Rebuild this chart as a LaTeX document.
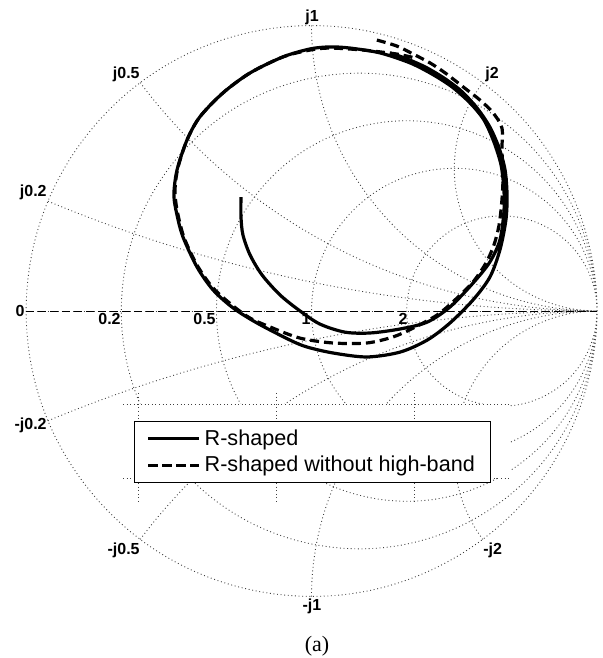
\documentclass[border=0pt]{standalone}
\usepackage{fontspec}
\setmainfont{Liberation Serif}
\newfontfamily\arial{Liberation Sans}
\usepackage{pgfplots}
\pgfplotsset{compat=1.18}
\usepgfplotslibrary{smithchart}
\begin{document}
\begin{tikzpicture}
\useasboundingbox (-155.75pt,-173.5pt) rectangle (145.25pt,155.5pt);
\begin{smithchart}[
  at={(0pt,0pt)}, anchor=center,
  scale only axis, width=285.5pt, height=285.5pt,
  few smithchart ticks,
  xtick={0.2,0.5,1,2},
  ytick={-2,-1,-0.5,-0.2,0.2,0.5,1,2},
  minor xtick={}, minor ytick={},
  xticklabels={}, yticklabels={},
  major tick length=0pt, minor tick length=0pt,
  grid=major,
  major grid style={black!75, line width=0.45pt, dash pattern=on 0.45pt off 1.35pt},
  axis line style={black!75, line width=0.45pt, dash pattern=on 0.45pt off 1.35pt},
  legend style={at={(0.1891,0.3074)}, anchor=north west, draw=black, line width=0.5pt,
    fill=white, font=\arial\fontsize{10.8}{13.5}\selectfont, inner xsep=6pt, inner ysep=2pt,
    cells={anchor=west}},
  legend image code/.code={\path (-0.5pt,0pt) -- (25pt,0pt); \draw[#1] (0pt,0pt) -- (19.5pt,0pt);},
]
% erased band of the grid with its dotted borders
\fill[white] (axis description cs:0.1699,0.2075) rectangle (axis description cs:0.8476,0.3371);
\draw[black!75, line width=0.45pt, dash pattern=on 0.45pt off 1.35pt]
  (axis description cs:0.1699,0.3371) -- (axis description cs:0.8476,0.3371)
  (axis description cs:0.1699,0.2075) -- (axis description cs:0.8476,0.2075)
  (axis description cs:0.1961,0.3564) -- (axis description cs:0.1961,0.1637)
  (axis description cs:0.4378,0.3564) -- (axis description cs:0.4378,0.1637)
  (axis description cs:0.6795,0.3564) -- (axis description cs:0.6795,0.1637);
% real axis
\addplot[is smithchart cs, black, line width=0.5pt, dash pattern=on 4pt off 2pt, forget plot]
  coordinates {(-1,0) (1,0)};
% R-shaped
\addplot[is smithchart cs, black, line width=1.6pt, smooth, tension=0.5, line join=round]
  coordinates {
(-0.247,0.399) (-0.247,0.329) (-0.240,0.266) (-0.215,0.196) (-0.173,0.126)
(-0.110,0.056) (-0.040,0.000) (0.030,-0.046) (0.117,-0.074) (0.205,-0.077)
(0.310,-0.063) (0.405,-0.039) (0.485,0.014) (0.566,0.098) (0.625,0.172)
(0.660,0.249) (0.674,0.347) (0.674,0.424) (0.664,0.511) (0.639,0.592)
(0.604,0.669) (0.555,0.729) (0.492,0.785) (0.422,0.830) (0.345,0.869)
(0.240,0.904) (0.135,0.921) (0.065,0.925) (-0.005,0.918) (-0.100,0.890)
(-0.215,0.834) (-0.310,0.764) (-0.391,0.680) (-0.436,0.599) (-0.471,0.494)
(-0.482,0.406) (-0.471,0.336) (-0.450,0.259) (-0.401,0.154) (-0.345,0.074)
(-0.275,0.011) (-0.191,-0.042) (-0.075,-0.102) (-0.016,-0.126) (0.075,-0.147)
(0.194,-0.161) (0.310,-0.144) (0.405,-0.102) (0.485,-0.042) (0.566,0.039)
(0.625,0.119) (0.660,0.214) (0.681,0.319) (0.685,0.406) (0.678,0.494)
(0.657,0.571) (0.625,0.644) (0.580,0.711) (0.524,0.771) (0.464,0.816)
(0.398,0.855) (0.327,0.886) (0.275,0.904)
  };
\addlegendentry{R-shaped}
% R-shaped without high-band
\addplot[is smithchart cs, black, line width=1.6pt, dash pattern=on 4.5pt off 2.5pt, smooth, tension=0.5, line join=round]
  coordinates {
(0.229,0.949) (0.299,0.928) (0.356,0.900) (0.415,0.869) (0.468,0.834)
(0.531,0.785) (0.590,0.739) (0.636,0.694) (0.667,0.641) (0.667,0.564)
(0.671,0.476) (0.667,0.389) (0.657,0.301) (0.639,0.231) (0.611,0.168)
(0.566,0.102) (0.503,0.039) (0.440,-0.014) (0.356,-0.060) (0.285,-0.091)
(0.194,-0.112) (0.075,-0.112) (-0.040,-0.095) (-0.145,-0.056) (-0.215,-0.025)
(-0.275,0.018) (-0.345,0.081) (-0.401,0.161) (-0.447,0.259) (-0.471,0.354)
(-0.478,0.424) (-0.468,0.501) (-0.436,0.599) (-0.391,0.680) (-0.310,0.764)
(-0.215,0.834) (-0.100,0.890) (-0.005,0.914) (0.065,0.921) (0.180,0.914)
(0.299,0.900) (0.363,0.886)
  };
\addlegendentry{R-shaped without high-band}
\end{smithchart}
\begin{scope}[every node/.style={inner sep=0pt, font=\arial\bfseries\fontsize{8}{9.6}\selectfont}]
\node[anchor=east] at (-143.25pt,0pt) {0};
\node[anchor=north east] at (-95.25pt,-1pt) {0.2};
\node[anchor=north east] at (-47.75pt,-1pt) {0.5};
\node[anchor=north east] at (-0.25pt,-1pt) {1};
\node[anchor=north east] at (48.25pt,-1pt) {2};
\node[anchor=south] at (0.25pt,143pt) {j1};
\node[anchor=south east] at (-85.75pt,114.5pt) {j0.5};
\node[anchor=south west] at (86.75pt,114.5pt) {j2};
\node[anchor=south east] at (-132.25pt,55.5pt) {j0.2};
\node[anchor=north east] at (-132.25pt,-53.5pt) {-j0.2};
\node[anchor=north east] at (-85.75pt,-116pt) {-j0.5};
\node[anchor=north west] at (85.75pt,-116pt) {-j2};
\node[anchor=north] at (0.25pt,-144pt) {-j1};
\end{scope}
\node[font=\fontsize{11}{13}\selectfont] at (2.75pt,-167.5pt) {(a)};
\end{tikzpicture}
\end{document}
